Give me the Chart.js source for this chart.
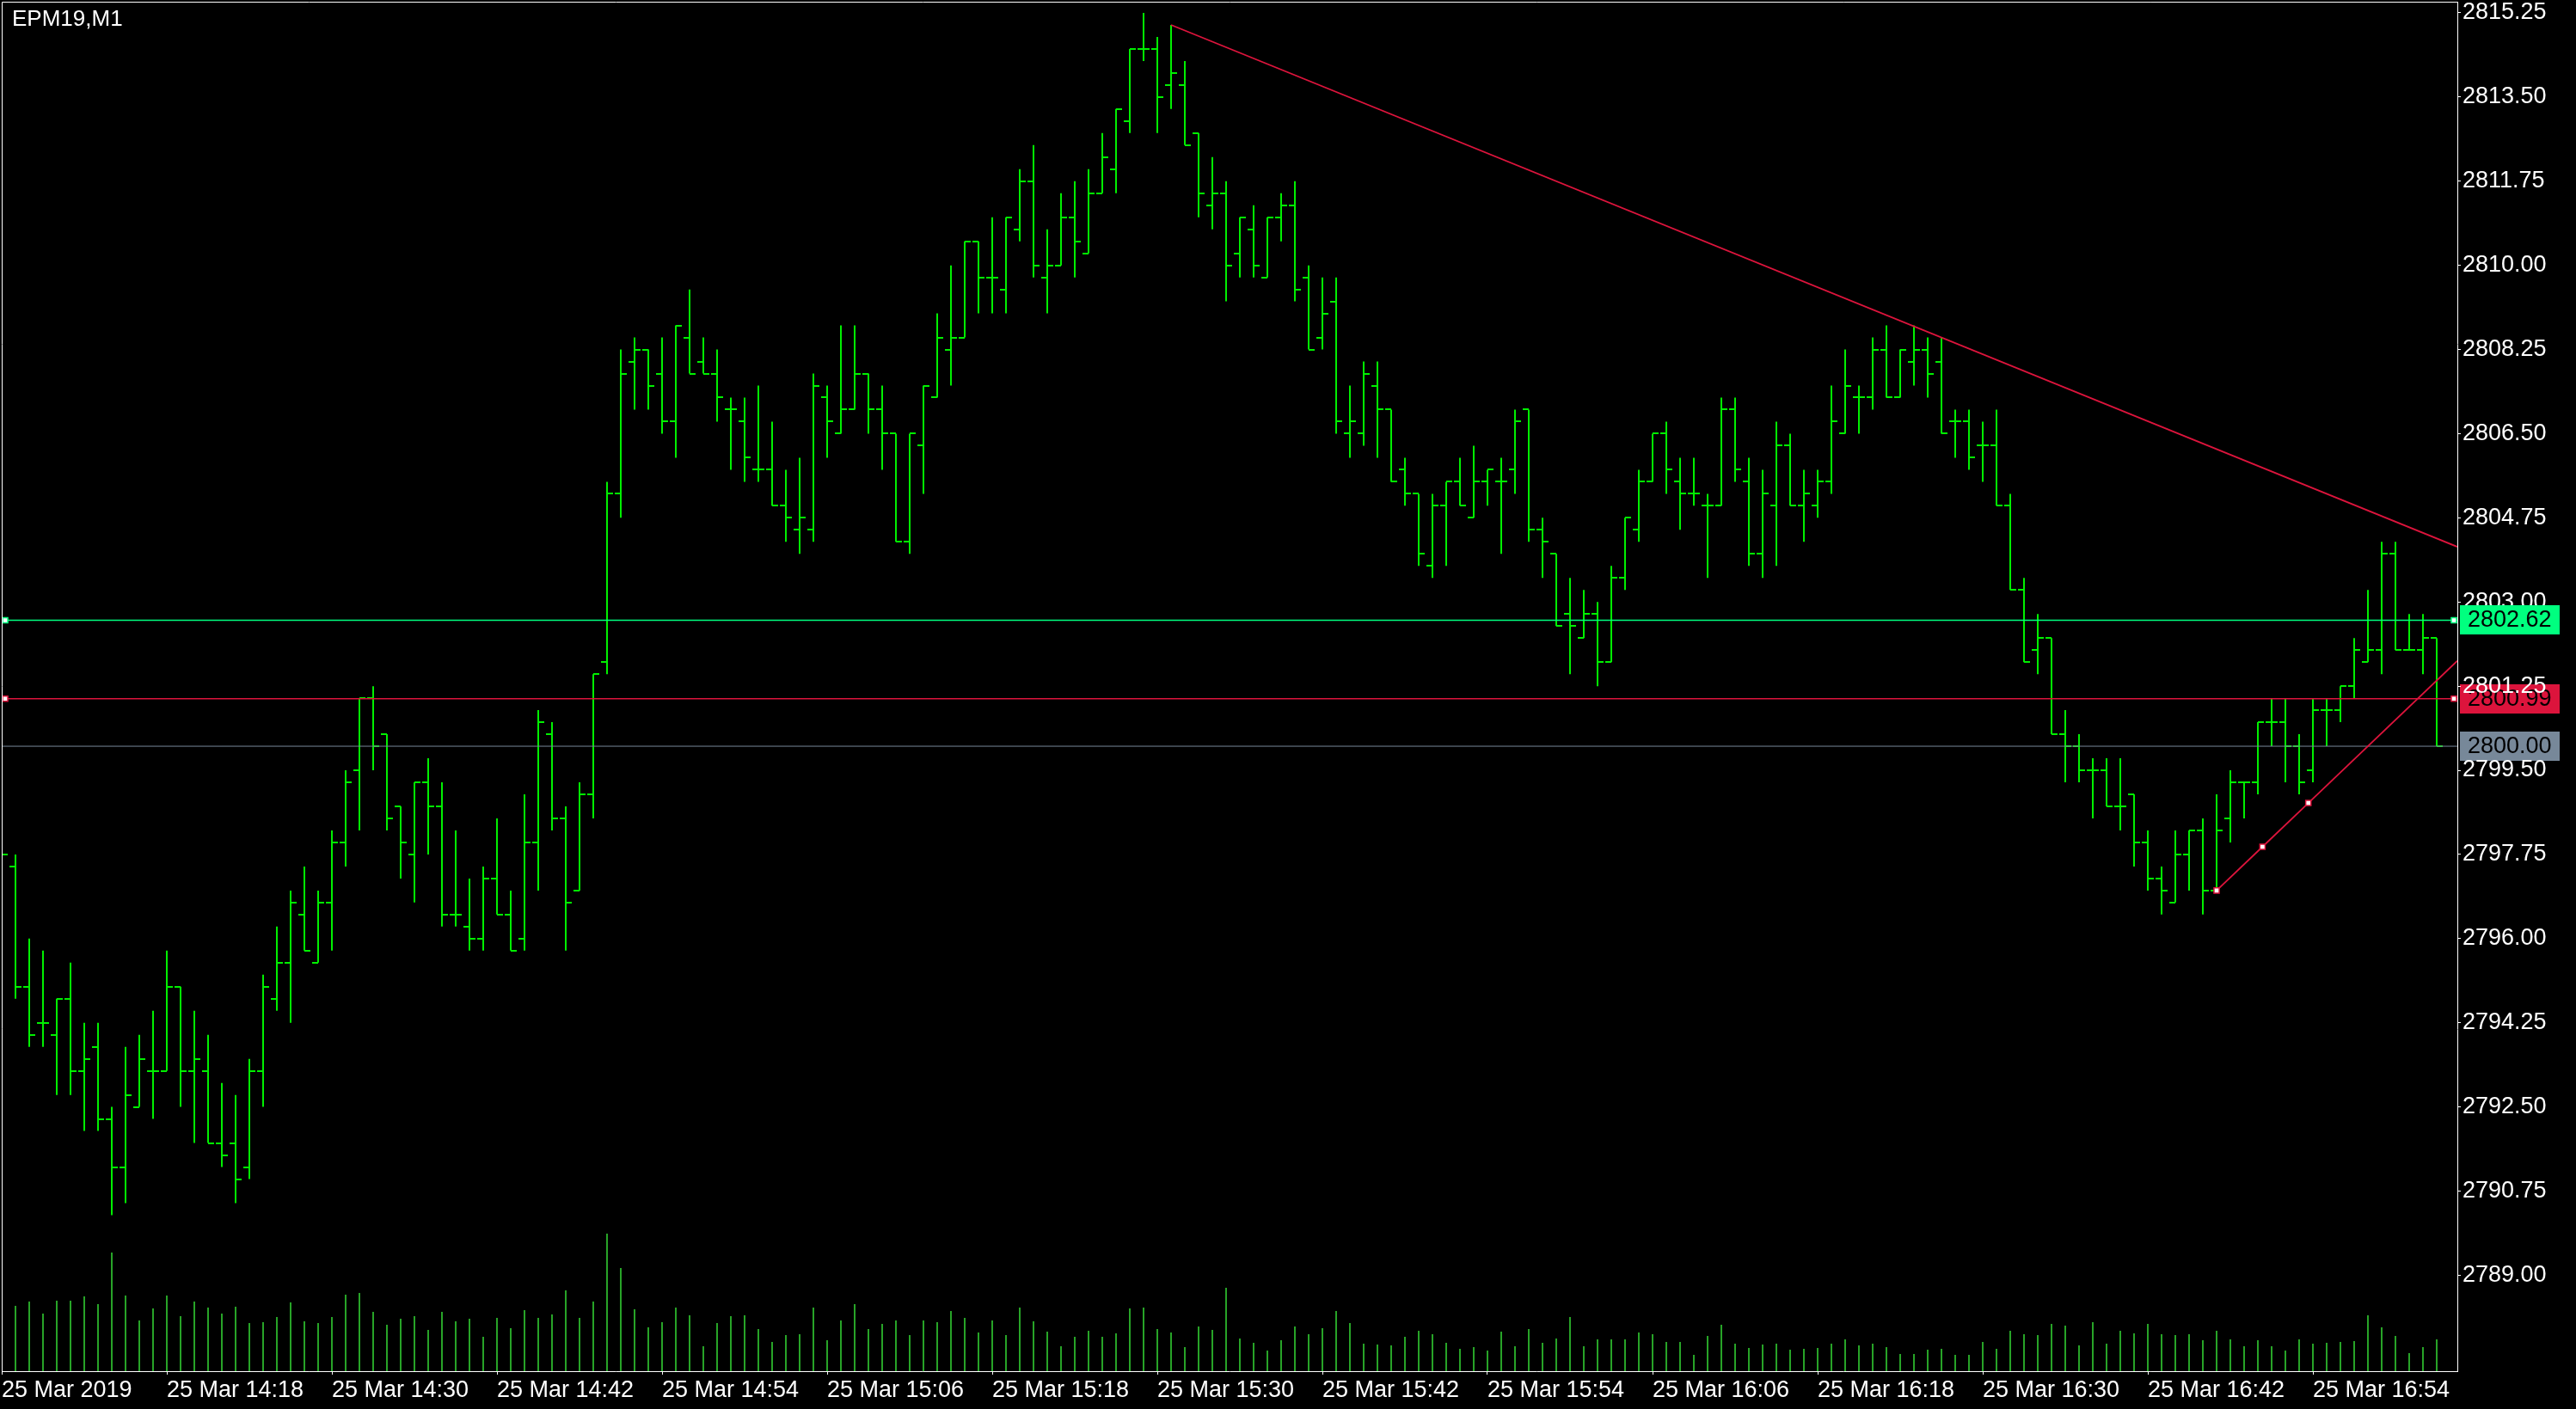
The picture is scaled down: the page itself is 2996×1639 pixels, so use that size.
<!DOCTYPE html>
<html>
<head>
<meta charset="utf-8">
<title>EPM19,M1</title>
<script src="https://cdn.jsdelivr.net/npm/chart.js@4.4.1/dist/chart.umd.min.js"></script>
<style>
html,body{margin:0;padding:0;background:#000;overflow:hidden;}
canvas{display:block;}
</style>
</head>
<body>
<canvas id="chart" width="2996" height="1639"></canvas>
<script>
// ---------------- data ----------------
const symbolLabel = 'EPM19,M1';

const xTickBars = [0, 12, 24, 36, 48, 60, 72, 84, 96, 108, 120, 132, 144, 156, 168];
const xTickLabels = ['25 Mar 2019', '25 Mar 14:18', '25 Mar 14:30', '25 Mar 14:42', '25 Mar 14:54',
  '25 Mar 15:06', '25 Mar 15:18', '25 Mar 15:30', '25 Mar 15:42', '25 Mar 15:54',
  '25 Mar 16:06', '25 Mar 16:18', '25 Mar 16:30', '25 Mar 16:42', '25 Mar 16:54'];

const yTickValues = [2815.25, 2813.50, 2811.75, 2810.00, 2808.25, 2806.50, 2804.75, 2803.00,
  2801.25, 2799.50, 2797.75, 2796.00, 2794.25, 2792.50, 2790.75, 2789.00];

const openPrices = [
  2797.75, 2797.50, 2795.00, 2794.25, 2794.00, 2794.75, 2793.25, 2793.75, 2792.25, 2791.25,
  2792.50, 2793.25, 2793.25, 2795.00, 2793.25, 2793.25, 2791.75, 2791.75, 2791.25, 2793.25,
  2794.75, 2795.50, 2796.50, 2795.50, 2796.75, 2798.00, 2799.50, 2801.00, 2800.25, 2798.75,
  2797.75, 2799.25, 2798.75, 2796.50, 2796.25, 2796.00, 2797.25, 2796.50, 2796.00, 2798.00,
  2800.25, 2798.50, 2797.00, 2799.00, 2801.75, 2805.25, 2808.00, 2808.25, 2807.75, 2806.75,
  2808.50, 2808.00, 2807.75, 2807.00, 2806.75, 2805.75, 2805.75, 2805.00, 2804.50, 2804.50,
  2807.25, 2806.50, 2807.00, 2807.75, 2807.00, 2806.50, 2804.25, 2806.25, 2807.25, 2808.25,
  2808.50, 2810.50, 2809.75, 2809.50, 2810.75, 2811.75, 2809.75, 2810.00, 2811.00, 2810.25,
  2811.50, 2812.00, 2813.00, 2814.50, 2814.50, 2813.75, 2813.75, 2812.75, 2811.25, 2811.50,
  2810.25, 2810.75, 2809.75, 2811.00, 2811.25, 2809.75, 2808.50, 2809.25, 2806.50, 2806.50,
  2807.50, 2807.00, 2805.75, 2805.25, 2803.75, 2805.00, 2805.50, 2804.75, 2805.50, 2805.50,
  2805.75, 2807.00, 2804.50, 2804.00, 2802.75, 2802.25, 2802.75, 2801.75, 2803.50, 2804.50,
  2805.50, 2806.50, 2805.50, 2805.25, 2805.00, 2805.00, 2807.00, 2805.50, 2804.00, 2805.00,
  2806.25, 2805.00, 2805.00, 2805.50, 2806.50, 2807.25, 2807.25, 2808.25, 2807.25, 2808.00,
  2808.25, 2808.00, 2806.75, 2806.75, 2806.25, 2806.25, 2805.00, 2803.25, 2802.00, 2802.25,
  2800.25, 2800.00, 2799.50, 2799.50, 2798.75, 2799.00, 2798.00, 2797.25, 2796.75, 2797.75,
  2798.25, 2797.00, 2798.50, 2799.25, 2799.25, 2800.50, 2800.50, 2800.00, 2799.50, 2800.75,
  2800.75, 2801.25, 2801.75, 2802.00, 2804.00, 2802.00, 2802.00, 2802.25];

const highPrices = [
  2798.00, 2797.75, 2796.00, 2795.75, 2794.75, 2795.50, 2794.25, 2794.25, 2792.50, 2793.75,
  2794.00, 2794.50, 2795.75, 2795.00, 2794.50, 2794.00, 2793.00, 2792.75, 2793.50, 2795.25,
  2796.25, 2797.00, 2797.50, 2797.00, 2798.25, 2799.50, 2801.00, 2801.25, 2800.25, 2798.75,
  2799.25, 2799.75, 2799.25, 2798.25, 2797.25, 2797.50, 2798.50, 2797.00, 2799.00, 2800.75,
  2800.50, 2798.75, 2799.25, 2801.50, 2805.50, 2808.25, 2808.50, 2808.25, 2808.50, 2808.75,
  2809.50, 2808.50, 2808.25, 2807.25, 2807.25, 2807.50, 2806.75, 2805.75, 2806.00, 2807.75,
  2807.50, 2808.75, 2808.75, 2807.75, 2807.50, 2806.50, 2806.50, 2807.50, 2809.00, 2810.00,
  2810.50, 2810.50, 2811.00, 2811.00, 2812.00, 2812.50, 2810.75, 2811.50, 2811.75, 2812.00,
  2812.75, 2813.25, 2814.50, 2815.25, 2814.75, 2815.00, 2814.25, 2812.75, 2812.25, 2811.75,
  2811.00, 2811.25, 2811.00, 2811.50, 2811.75, 2810.00, 2809.75, 2809.75, 2807.50, 2808.00,
  2808.00, 2807.00, 2806.00, 2805.25, 2805.25, 2805.50, 2806.00, 2806.25, 2805.75, 2806.00,
  2807.00, 2807.00, 2804.75, 2804.00, 2803.50, 2803.25, 2803.00, 2803.75, 2804.75, 2805.75,
  2806.50, 2806.75, 2806.00, 2806.00, 2805.25, 2807.25, 2807.25, 2806.00, 2805.75, 2806.75,
  2806.50, 2805.75, 2805.75, 2807.50, 2808.25, 2807.50, 2808.50, 2808.75, 2808.25, 2808.75,
  2808.50, 2808.50, 2807.00, 2807.00, 2806.75, 2807.00, 2805.25, 2803.50, 2802.75, 2802.25,
  2800.75, 2800.25, 2799.75, 2799.75, 2799.75, 2799.00, 2798.25, 2797.50, 2798.25, 2798.25,
  2798.50, 2799.00, 2799.50, 2799.25, 2800.50, 2801.00, 2801.00, 2800.25, 2801.00, 2801.00,
  2801.25, 2802.25, 2803.25, 2804.25, 2804.25, 2802.75, 2802.75, 2802.25];

const lowPrices = [
  2797.50, 2794.75, 2793.75, 2793.75, 2792.75, 2792.75, 2792.00, 2792.00, 2790.25, 2790.50,
  2792.50, 2792.25, 2793.25, 2792.50, 2791.75, 2791.75, 2791.25, 2790.50, 2791.00, 2792.50,
  2794.50, 2794.25, 2795.75, 2795.50, 2795.75, 2797.50, 2798.25, 2799.50, 2798.25, 2797.25,
  2796.75, 2797.75, 2796.25, 2796.25, 2795.75, 2795.75, 2796.50, 2795.75, 2795.75, 2797.00,
  2798.25, 2795.75, 2797.00, 2798.50, 2801.50, 2804.75, 2807.00, 2807.00, 2806.50, 2806.00,
  2807.75, 2807.75, 2806.75, 2805.75, 2805.50, 2805.50, 2805.00, 2804.25, 2804.00, 2804.25,
  2806.00, 2806.50, 2807.00, 2806.50, 2805.75, 2804.25, 2804.00, 2805.25, 2807.25, 2807.50,
  2808.50, 2809.00, 2809.00, 2809.00, 2810.50, 2809.75, 2809.00, 2810.00, 2809.75, 2810.25,
  2811.50, 2811.50, 2812.75, 2814.25, 2812.75, 2813.25, 2812.50, 2811.00, 2810.75, 2809.25,
  2809.75, 2809.75, 2809.75, 2810.50, 2809.25, 2808.25, 2808.25, 2806.50, 2806.00, 2806.25,
  2806.00, 2805.50, 2805.00, 2803.75, 2803.50, 2803.75, 2805.00, 2804.75, 2805.00, 2804.00,
  2805.25, 2804.25, 2803.50, 2802.50, 2801.50, 2802.25, 2801.25, 2801.75, 2803.25, 2804.25,
  2805.50, 2805.25, 2804.50, 2805.00, 2803.50, 2805.00, 2805.50, 2803.75, 2803.50, 2803.75,
  2805.00, 2804.25, 2804.75, 2805.25, 2806.50, 2806.50, 2807.00, 2807.25, 2807.25, 2807.50,
  2807.25, 2806.50, 2806.00, 2805.75, 2805.50, 2805.00, 2803.25, 2801.75, 2801.50, 2800.25,
  2799.25, 2799.25, 2798.50, 2798.75, 2798.25, 2797.50, 2797.00, 2796.50, 2796.75, 2797.00,
  2796.50, 2797.00, 2798.00, 2798.50, 2799.00, 2800.00, 2799.25, 2799.00, 2799.25, 2800.00,
  2800.50, 2801.00, 2801.75, 2801.50, 2802.00, 2802.00, 2801.50, 2800.00];

const closePrices = [
  2797.75, 2795.00, 2794.00, 2794.25, 2794.75, 2793.25, 2793.50, 2792.25, 2791.25, 2792.75,
  2793.50, 2793.25, 2795.00, 2793.25, 2793.50, 2791.75, 2791.50, 2791.00, 2793.25, 2795.00,
  2795.50, 2796.75, 2795.75, 2796.75, 2798.00, 2799.25, 2801.00, 2800.00, 2798.50, 2798.00,
  2799.25, 2798.75, 2796.50, 2796.50, 2796.00, 2797.25, 2796.50, 2795.75, 2798.00, 2800.50,
  2798.50, 2796.75, 2799.00, 2801.50, 2805.25, 2807.75, 2808.25, 2807.50, 2806.75, 2808.75,
  2807.75, 2807.75, 2807.25, 2807.00, 2806.00, 2805.75, 2805.00, 2804.75, 2804.75, 2807.50,
  2806.75, 2807.00, 2807.75, 2807.00, 2806.50, 2804.25, 2806.50, 2807.50, 2808.50, 2808.50,
  2810.50, 2809.75, 2809.75, 2811.00, 2811.75, 2810.00, 2810.00, 2811.00, 2810.50, 2811.50,
  2812.25, 2813.25, 2814.50, 2814.50, 2813.50, 2814.00, 2812.50, 2811.50, 2811.50, 2810.00,
  2811.00, 2810.00, 2811.00, 2811.25, 2809.50, 2808.25, 2809.00, 2806.75, 2806.75, 2807.75,
  2807.00, 2805.50, 2805.25, 2804.00, 2805.00, 2805.50, 2805.00, 2805.50, 2805.75, 2805.50,
  2806.75, 2804.50, 2804.25, 2802.50, 2802.50, 2802.75, 2801.75, 2803.50, 2804.75, 2805.50,
  2806.50, 2805.75, 2805.25, 2805.25, 2805.00, 2807.00, 2805.75, 2804.00, 2805.25, 2806.25,
  2805.00, 2805.25, 2805.50, 2806.75, 2807.50, 2807.25, 2808.25, 2807.25, 2808.25, 2808.25,
  2807.75, 2806.50, 2806.75, 2806.00, 2806.25, 2805.00, 2803.25, 2801.75, 2802.25, 2800.25,
  2800.00, 2799.50, 2799.50, 2798.75, 2798.75, 2798.00, 2797.25, 2797.00, 2797.75, 2798.25,
  2797.00, 2798.25, 2799.25, 2799.25, 2800.50, 2800.50, 2800.00, 2799.25, 2800.75, 2800.75,
  2801.25, 2802.00, 2802.00, 2804.00, 2802.00, 2802.00, 2802.25, 2800.00];

const volumes = [
  225, 228, 243, 201, 246, 246, 261, 234, 414, 264,
  177, 219, 264, 192, 243, 222, 201, 225, 168, 171,
  189, 240, 174, 168, 189, 267, 273, 207, 162, 183,
  192, 144, 207, 174, 183, 120, 186, 150, 213, 186,
  198, 282, 186, 243, 480, 360, 216, 153, 171, 222,
  195, 87, 168, 192, 195, 147, 102, 126, 129, 222,
  108, 177, 234, 147, 165, 177, 126, 177, 171, 210,
  186, 135, 177, 126, 222, 174, 138, 87, 120, 141,
  120, 132, 219, 222, 147, 135, 84, 156, 144, 291,
  114, 99, 72, 108, 156, 129, 150, 210, 168, 96,
  93, 90, 120, 141, 129, 99, 78, 84, 72, 138,
  87, 147, 99, 114, 189, 87, 111, 111, 111, 135,
  129, 102, 102, 57, 123, 162, 96, 81, 93, 96,
  75, 78, 81, 96, 111, 90, 96, 84, 60, 60,
  75, 78, 57, 57, 102, 78, 141, 129, 126, 165,
  159, 90, 171, 96, 141, 132, 165, 129, 126, 129,
  108, 141, 111, 87, 108, 87, 72, 111, 96, 99,
  102, 105, 195, 153, 123, 63, 84, 111];

// horizontal price lines
const levelPrices = [2802.62, 2800.99, 2800.00];
const levelColors = ['#00ff7f', '#dc143c', '#778899'];
const levelMarked = [true, true, false];

// trend lines (rays to the right), anchors in bar index / price
const upperTrendAnchors = [{bar: 85, price: 2815.00}, {bar: 141, price: 2808.50}];
const lowerTrendAnchors = [{bar: 161, price: 2797.00}, {bar: 167.67, price: 2798.82}];

// ---------------- styles / scale setup ----------------
const BAR_COLOR = '#00f000';
const VOL_COLOR = '#32cd32';
const TREND_COLOR = '#dc143c';
const FONT_FAMILY = "'Liberation Sans', Arial, sans-serif";
const FONT = {family: FONT_FAMILY, size: 27};
const X_MIN = 0, X_MAX = 178.5;
const Y_MIN = 2787.005, Y_MAX = 2815.482;
const VOL_MAX = Math.max(...volumes) * 9.96;

const barIndex = openPrices.map((_, i) => i);

function tickCanvas(side) {
  const c = document.createElement('canvas');
  c.width = 14; c.height = 2;
  const g = c.getContext('2d');
  g.fillStyle = BAR_COLOR;
  g.fillRect(side === 'left' ? 0 : 7, 0, 7, 2);
  return c;
}
const openTick = tickCanvas('left');
const closeTick = tickCanvas('right');

function ray(anchors) {
  const [a, b] = anchors;
  const slope = (b.price - a.price) / (b.bar - a.bar);
  return {a, b, slope, endY: a.price + slope * (X_MAX - a.bar)};
}
const up = ray(upperTrendAnchors);
const lo = ray(lowerTrendAnchors);

const datasets = [];
datasets.push({
  type: 'bar', label: 'Volume', yAxisID: 'yv',
  data: barIndex.map(i => ({x: i, y: volumes[i]})),
  backgroundColor: VOL_COLOR, barThickness: 1.6, grouped: false, inflateAmount: 0,
  borderWidth: 0, order: 6
});
datasets.push({
  type: 'bar', label: 'Range', yAxisID: 'y',
  data: barIndex.map(i => ({x: i, y: [lowPrices[i], highPrices[i]]})),
  backgroundColor: BAR_COLOR, barThickness: 2, grouped: false, inflateAmount: 0,
  borderWidth: 0, borderSkipped: false, order: 5
});
datasets.push({
  type: 'scatter', label: 'Open', yAxisID: 'y',
  data: barIndex.map(i => ({x: i, y: openPrices[i]})),
  pointStyle: openTick, pointRadius: 7, order: 4
});
datasets.push({
  type: 'scatter', label: 'Close', yAxisID: 'y',
  data: barIndex.map(i => ({x: i, y: closePrices[i]})),
  pointStyle: closeTick, pointRadius: 7, order: 4
});
levelPrices.forEach((lv, k) => {
  datasets.push({
    type: 'line', label: 'Level ' + lv, yAxisID: 'y',
    data: [{x: X_MIN, y: lv}, {x: X_MAX, y: lv}],
    borderColor: levelColors[k], borderWidth: k === 2 ? 1 : 1.6,
    pointRadius: 0, fill: false, tension: 0, order: 3
  });
  if (levelMarked[k]) {
    datasets.push({
      type: 'scatter', label: 'Marker ' + lv, yAxisID: 'y',
      data: [{x: X_MIN + 0.25, y: lv}, {x: X_MAX - 0.25, y: lv}],
      pointStyle: 'rect', pointRadius: 4.3, pointBackgroundColor: '#ffffff',
      pointBorderColor: levelColors[k], pointBorderWidth: 1.5, order: 1
    });
  }
});
datasets.push({
  type: 'line', label: 'Trend down', yAxisID: 'y',
  data: [{x: up.a.bar, y: up.a.price}, {x: X_MAX, y: up.endY}],
  borderColor: TREND_COLOR, borderWidth: 1.8, pointRadius: 0, fill: false, tension: 0, order: 2
});
datasets.push({
  type: 'line', label: 'Trend up', yAxisID: 'y',
  data: [{x: lo.a.bar, y: lo.a.price},
         {x: (lo.a.bar + lo.b.bar) / 2, y: (lo.a.price + lo.b.price) / 2},
         {x: lo.b.bar, y: lo.b.price},
         {x: X_MAX, y: lo.endY}],
  borderColor: TREND_COLOR, borderWidth: 1.8, fill: false, tension: 0,
  pointStyle: 'rect', pointRadius: [4.3, 4.3, 4.3, 0], pointBackgroundColor: '#ffffff',
  pointBorderColor: TREND_COLOR, pointBorderWidth: 1.5, order: 1
});

// ---------------- plugin for MT4 decorations ----------------
function priceBox(chart, value, color) {
  const {ctx, chartArea} = chart;
  const y = chart.scales.y.getPixelForValue(value);
  const x0 = chartArea.right + 3;
  ctx.save();
  ctx.fillStyle = color;
  ctx.fillRect(x0, Math.round(y) - 17, 116, 34);
  ctx.fillStyle = '#000';
  ctx.font = `27px ${FONT_FAMILY}`;
  ctx.textAlign = 'left';
  ctx.textBaseline = 'middle';
  ctx.fillText(value.toFixed(2), x0 + 9, Math.round(y) + 1);
  ctx.restore();
}

const mt4Plugin = {
  id: 'mt4',
  beforeDraw(chart) {
    const {ctx, width, height} = chart;
    ctx.save();
    ctx.fillStyle = '#000';
    ctx.fillRect(0, 0, width, height);
    ctx.restore();
    priceBox(chart, levelPrices[2], levelColors[2]);
    priceBox(chart, levelPrices[1], levelColors[1]);
  },
  afterDatasetsDraw(chart) {
    const {ctx, chartArea} = chart;
    ctx.save();
    ctx.strokeStyle = '#ffffff';
    ctx.lineWidth = 1;
    ctx.beginPath();
    ctx.moveTo(chartArea.left + 0.5, chartArea.bottom);
    ctx.lineTo(chartArea.left + 0.5, chartArea.top + 0.5);
    ctx.lineTo(chartArea.right, chartArea.top + 0.5);
    ctx.stroke();
    ctx.restore();
  },
  afterDraw(chart) {
    const {ctx} = chart;
    priceBox(chart, levelPrices[0], levelColors[0]);
    ctx.save();
    ctx.fillStyle = '#ffffff';
    ctx.font = `26px ${FONT_FAMILY}`;
    ctx.textAlign = 'left';
    ctx.textBaseline = 'middle';
    ctx.fillText(symbolLabel, 14, 23);
    ctx.restore();
  }
};

// ---------------- chart ----------------
new Chart(document.getElementById('chart'), {
  type: 'bar',
  data: {datasets},
  options: {
    responsive: false,
    maintainAspectRatio: false,
    animation: false,
    devicePixelRatio: 1,
    events: [],
    layout: {autoPadding: false, padding: {left: 2, top: 2, right: 0, bottom: 0}},
    plugins: {legend: {display: false}, tooltip: {enabled: false}},
    scales: {
      x: {
        type: 'linear', position: 'bottom', min: X_MIN, max: X_MAX, offset: false,
        afterBuildTicks: s => { s.ticks = xTickBars.map(v => ({value: v})); },
        afterFit: s => { s.height = 44; s.paddingLeft = 0; s.paddingRight = 0; },
        ticks: {
          color: '#ffffff', font: FONT, align: 'start', maxRotation: 0, minRotation: 0,
          autoSkip: false, padding: 2,
          callback: v => { const k = xTickBars.indexOf(v); return k >= 0 ? xTickLabels[k] : ''; }
        },
        grid: {drawOnChartArea: false, drawTicks: true, tickLength: 4, color: '#ffffff', offset: false},
        border: {display: true, color: '#ffffff', width: 1}
      },
      y: {
        type: 'linear', position: 'right', min: Y_MIN, max: Y_MAX,
        afterBuildTicks: s => { s.ticks = yTickValues.map(v => ({value: v})); },
        afterFit: s => { s.width = 138; s.paddingTop = 0; s.paddingBottom = 0; },
        ticks: {color: '#ffffff', font: FONT, padding: 2, autoSkip: false,
                callback: v => Number(v).toFixed(2)},
        grid: {drawOnChartArea: false, drawTicks: true, tickLength: 4, color: '#ffffff'},
        border: {display: true, color: '#ffffff', width: 1}
      },
      yv: {type: 'linear', display: false, min: 0, max: VOL_MAX}
    }
  },
  plugins: [mt4Plugin]
});
</script>
</body>
</html>
